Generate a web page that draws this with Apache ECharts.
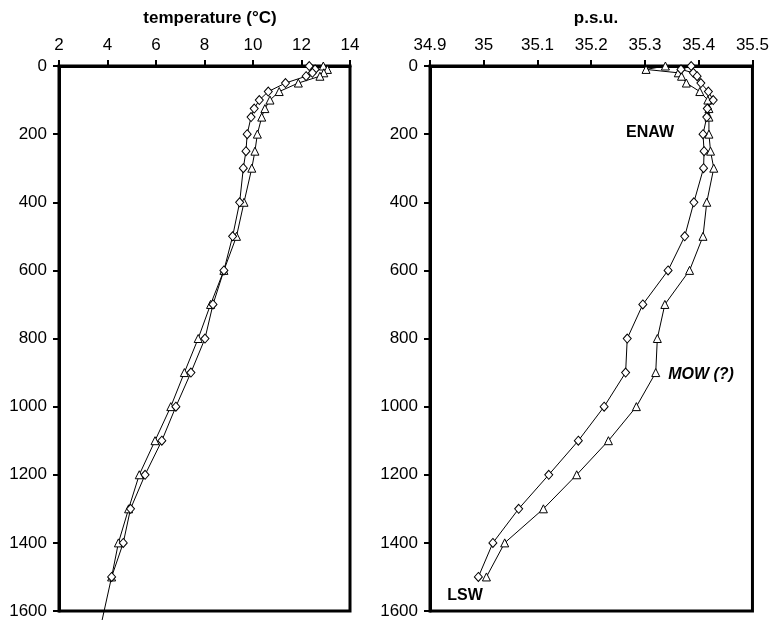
<!DOCTYPE html>
<html>
<head>
<meta charset="utf-8">
<script src="https://cdn.jsdelivr.net/npm/echarts@6/dist/echarts.min.js"></script>
<style>
  html, body { margin: 0; padding: 0; background: #fff; }
  #chart { width: 772px; height: 620px; }
</style>
</head>
<body>
<div id="chart"></div>
<script>
// Sampling depths (m), shared by both profiles
const depths = [0, 10, 20, 30, 50, 75, 100, 125, 150, 200, 250, 300, 400, 500,
  600, 700, 800, 900, 1000, 1100, 1200, 1300, 1400, 1500];

// Temperature (°C), diamond and triangle casts
const tempDiamond = [12.32, 12.56, 12.45, 12.19, 11.34, 10.63, 10.26, 10.05, 9.92, 9.76,
  9.71, 9.60, 9.45, 9.16, 8.80, 8.35, 8.02, 7.44, 6.82, 6.24, 5.55, 4.95, 4.65, 4.17];
const tempTriangle = [12.90, 13.07, 12.92, 12.76, 11.87, 11.08, 10.70, 10.49, 10.36, 10.18,
  10.08, 9.95, 9.63, 9.32, 8.80, 8.25, 7.74, 7.17, 6.61, 5.96, 5.31, 4.87, 4.45, 4.17];
// Deep continuation of the temperature trace below the last sample
const tempTailDepths = [1500, 1700];
const tempTail = [4.17, 3.55];

// Salinity (p.s.u.), diamond and triangle casts
const salDiamond = [35.386, 35.367, 35.390, 35.397, 35.404, 35.418, 35.427, 35.416, 35.415, 35.408,
  35.410, 35.409, 35.391, 35.374, 35.343, 35.296, 35.267, 35.264, 35.224, 35.176,
  35.121, 35.065, 35.017, 34.990];
const salTriangle = [35.338, 35.302, 35.362, 35.368, 35.377, 35.402, 35.417, 35.419, 35.419, 35.419,
  35.422, 35.428, 35.415, 35.408, 35.383, 35.337, 35.323, 35.320, 35.284, 35.232,
  35.173, 35.111, 35.039, 35.005];

// Axis tick values
const tempTicks = [2, 4, 6, 8, 10, 12, 14];
const salTicks = [34.9, 35.0, 35.1, 35.2, 35.3, 35.4, 35.5];
const depthTicks = [0, 200, 400, 600, 800, 1000, 1200, 1400, 1600];

// Water mass annotations
const waterMasses = [
  { text: 'ENAW', x: 650, y: 133, italic: false },
  { text: 'MOW (?)', x: 701, y: 375, italic: true },
  { text: 'LSW', x: 465, y: 596, italic: false }
];

const FONT = '"Liberation Sans", Arial, Helvetica, sans-serif';
const pairs = (xs, ys) => xs.map((v, i) => [v, ys[i]]);

const chart = echarts.init(document.getElementById('chart'), null, { renderer: 'canvas' });

const axisLine = { show: true, lineStyle: { color: '#000', width: 3 } };
const axisTick = { show: true, length: 6, lineStyle: { color: '#000', width: 2 } };
const axisLabel = { color: '#000', fontSize: 17, fontFamily: FONT };

function xAxisFor(gridIndex, ticks, fmt) {
  return {
    type: 'value', gridIndex, position: 'top',
    min: ticks[0], max: ticks[ticks.length - 1],
    interval: +(ticks[1] - ticks[0]).toFixed(6),
    axisLine, axisTick,
    axisLabel: Object.assign({}, axisLabel, { margin: 12, formatter: fmt }),
    splitLine: { show: false }
  };
}
function yAxisFor(gridIndex) {
  return {
    type: 'value', gridIndex, inverse: true,
    min: depthTicks[0], max: depthTicks[depthTicks.length - 1],
    interval: depthTicks[1] - depthTicks[0],
    axisLine, axisTick,
    axisLabel: Object.assign({}, axisLabel, { margin: 12, formatter: v => String(v) }),
    splitLine: { show: false }
  };
}

function profile(name, xi, data, symbol) {
  return {
    name, type: 'line', xAxisIndex: xi, yAxisIndex: xi,
    data, symbol, symbolSize: symbol === 'diamond' ? [8, 9] : 8,
    showAllSymbol: true,
    lineStyle: { color: '#000', width: 1 },
    itemStyle: { color: '#fff', borderColor: '#000', borderWidth: 1 },
    clip: false, animation: false, z: symbol === 'diamond' ? 3 : 2
  };
}

const option = {
  backgroundColor: '#fff',
  animation: false,
  title: [
    { text: 'temperature (°C)', left: 205, top: 5, textAlign: 'center',
      textStyle: { fontSize: 17, fontWeight: 'bold', fontFamily: FONT, color: '#000' } },
    { text: 'p.s.u.', left: 591, top: 5, textAlign: 'center',
      textStyle: { fontSize: 17, fontWeight: 'bold', fontFamily: FONT, color: '#000' } }
  ],
  grid: [
    { left: 59, top: 66, width: 291, height: 545, show: true, borderColor: '#000', borderWidth: 3 },
    { left: 430, top: 66, width: 323, height: 545, show: true, borderColor: '#000', borderWidth: 3 }
  ],
  xAxis: [
    xAxisFor(0, tempTicks, v => String(v)),
    xAxisFor(1, salTicks, v => String(+v.toFixed(1)))
  ],
  yAxis: [yAxisFor(0), yAxisFor(1)],
  series: [
    {
      type: 'line', xAxisIndex: 0, yAxisIndex: 0,
      data: pairs(tempTail, tempTailDepths), symbol: 'none',
      lineStyle: { color: '#000', width: 1 }, clip: false, z: 1
    },
    profile('T triangle', 0, pairs(tempTriangle, depths), 'triangle'),
    profile('T diamond', 0, pairs(tempDiamond, depths), 'diamond'),
    profile('S triangle', 1, pairs(salTriangle, depths), 'triangle'),
    profile('S diamond', 1, pairs(salDiamond, depths), 'diamond')
  ],
  graphic: waterMasses.map(m => ({
    type: 'text', x: m.x, y: m.y,
    style: {
      text: m.text, fill: '#000', font: (m.italic ? 'italic ' : '') + 'bold 16px ' + FONT,
      textAlign: 'center', textVerticalAlign: 'middle'
    }
  }))
};

chart.setOption(option);
</script>
</body>
</html>
